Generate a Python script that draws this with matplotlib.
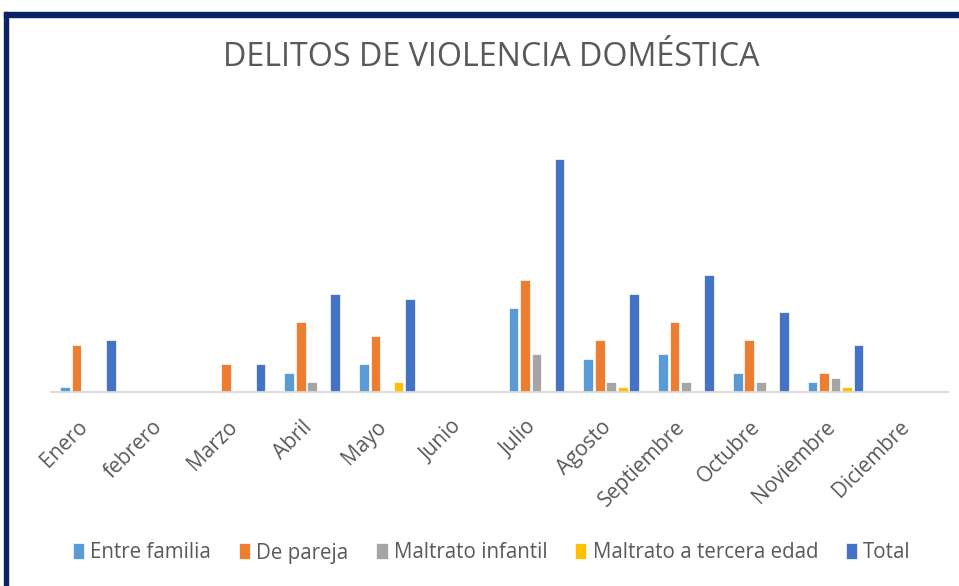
import matplotlib.pyplot as plt
from matplotlib.patches import Rectangle
from matplotlib.transforms import ScaledTranslation
import numpy as np

plt.rcParams['font.family'] = ['Open Sans', 'DejaVu Sans']

months = ['Enero', 'febrero', 'Marzo', 'Abril', 'Mayo', 'Junio', 'Julio',
          'Agosto', 'Septiembre', 'Octubre', 'Noviembre', 'Diciembre']
entre_familia = [1, 0, 0, 4, 6, 0, 18, 7, 8, 4, 2, 0]
de_pareja = [10, 0, 6, 15, 12, 0, 24, 11, 15, 11, 4, 0]
maltrato_infantil = [0, 0, 0, 2, 0, 0, 8, 2, 2, 2, 3, 0]
tercera_edad = [0, 0, 0, 0, 2, 0, 0, 1, 0, 0, 1, 0]
total = [11, 0, 6, 21, 20, 0, 50, 21, 25, 17, 10, 0]

series = [
    ("Entre familia", entre_familia, "#5B9BD5"),
    ("De pareja", de_pareja, "#ED7D31"),
    ("Maltrato infantil", maltrato_infantil, "#A5A5A5"),
    ("Maltrato a tercera edad", tercera_edad, "#FFC000"),
    ("Total", total, "#4472C4"),
]

text_color = "#595959"
W, H = 959, 586
fig = plt.figure(figsize=(W / 100, H / 100), dpi=100)
ax = fig.add_axes([50.6 / W, 1 - 391.5 / H, (947.6 - 50.6) / W, (391.5 - 112.5) / H])

x = np.arange(len(months))
slot = 0.154
for j, (name, vals, color) in enumerate(series):
    ax.bar(x + (j - 2) * slot, vals, width=slot * 0.86, color=color,
           edgecolor="white", linewidth=0.5, label=name)

ax.set_xlim(-0.5, len(months) - 0.5)
ax.set_ylim(0, 60)
ax.set_yticks([])
for s in ["top", "right", "left"]:
    ax.spines[s].set_visible(False)
ax.spines["bottom"].set_color("#d9d9d9")
ax.spines["bottom"].set_linewidth(1.3)

ax.set_xticks(x)
ax.set_xticklabels(months, rotation=45, ha="right", rotation_mode="anchor",
                   fontsize=15, color=text_color)
ax.tick_params(axis="x", length=0, pad=18)
shift = ScaledTranslation(-11 / 100, 0, fig.dpi_scale_trans)
for lab in ax.get_xticklabels():
    lab.set_transform(lab.get_transform() + shift)

fig.text(491.7 / W, 1 - 57 / H, "DELITOS DE VIOLENCIA DOMÉSTICA", fontsize=23.2,
         color=text_color, ha="center", va="center")

leg = fig.legend(loc="center", bbox_to_anchor=(492 / W, 1 - 553 / H), ncol=5,
                 frameon=False, fontsize=14.8, handlelength=0.55, handleheight=0.8,
                 handletextpad=0.3, columnspacing=1.35, labelcolor=text_color)

# dark frame on the left and top
navy = "#0b2265"
fig.patches.append(Rectangle((4.3 / W, 0), 3.2 / W, 1 - 11.5 / H,
                             transform=fig.transFigure, color=navy, zorder=5))
fig.patches.append(Rectangle((4.3 / W, 1 - 17 / H), 1, 5.5 / H,
                             transform=fig.transFigure, color=navy, zorder=5))

fig.savefig("out.png", dpi=100)
